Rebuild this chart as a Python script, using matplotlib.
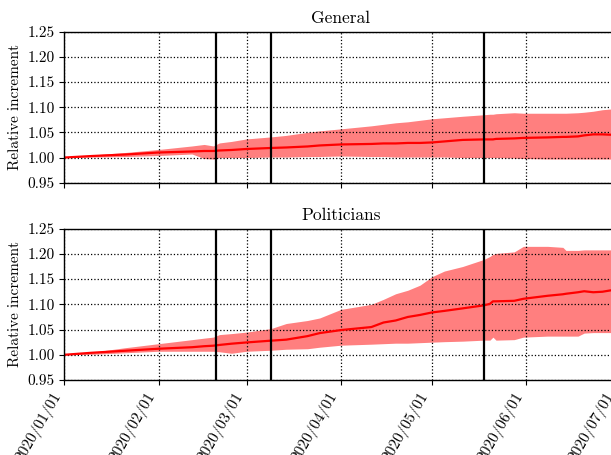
import matplotlib
matplotlib.use("Agg")
import matplotlib.pyplot as plt
import matplotlib.dates as mdates
import numpy as np
import pandas as pd

plt.rcParams['font.family'] = ['cmr10', 'DejaVu Serif']
plt.rcParams['mathtext.fontset'] = 'cm'
plt.rcParams['axes.unicode_minus'] = False
plt.rcParams['axes.formatter.use_mathtext'] = True

dates = ["2020-01-01", "2020-01-10", "2020-01-21", "2020-02-01", "2020-02-12",
         "2020-02-16", "2020-02-19", "2020-02-21", "2020-02-25", "2020-03-01",
         "2020-03-09", "2020-03-14", "2020-03-21", "2020-03-25", "2020-04-01",
         "2020-04-11", "2020-04-15", "2020-04-19", "2020-04-23", "2020-04-27",
         "2020-05-01", "2020-05-05", "2020-05-11", "2020-05-18", "2020-05-20",
         "2020-05-21", "2020-05-22", "2020-05-28", "2020-05-31", "2020-06-08",
         "2020-06-13", "2020-06-14", "2020-06-18", "2020-06-20", "2020-06-23",
         "2020-06-26", "2020-06-30"]

general_mean = [1.000, 1.003, 1.006, 1.010, 1.012, 1.013, 1.013, 1.014, 1.015, 1.017,
                1.019, 1.020, 1.022, 1.024, 1.026, 1.027, 1.028, 1.028, 1.029, 1.029,
                1.030, 1.032, 1.035, 1.036, 1.036, 1.036, 1.037, 1.038, 1.039, 1.040,
                1.041, 1.041, 1.042, 1.044, 1.046, 1.046, 1.045]
general_upper = [1.000, 1.005, 1.010, 1.016, 1.023, 1.026, 1.023, 1.029, 1.032, 1.037,
                 1.041, 1.044, 1.050, 1.053, 1.057, 1.063, 1.066, 1.069, 1.071, 1.074,
                 1.077, 1.079, 1.082, 1.085, 1.086, 1.086, 1.087, 1.089, 1.088, 1.088,
                 1.088, 1.088, 1.089, 1.090, 1.092, 1.095, 1.097]
general_lower = [1.000, 1.001, 1.002, 1.004, 1.007, 0.998, 0.997, 1.000, 1.000, 1.000,
                 1.001, 1.001, 1.002, 1.002, 1.003, 1.002, 1.002, 1.001, 1.001, 1.001,
                 1.001, 1.001, 1.000, 1.000, 1.000, 1.000, 1.000, 0.999, 0.998, 0.997,
                 0.997, 0.997, 0.997, 0.997, 0.997, 0.997, 0.997]

pol_mean = [1.000, 1.004, 1.008, 1.012, 1.015, 1.017, 1.018, 1.0195, 1.022, 1.0245,
            1.028, 1.030, 1.037, 1.043, 1.049, 1.055, 1.064, 1.068, 1.075, 1.079,
            1.084, 1.087, 1.092, 1.098, 1.101, 1.106, 1.106, 1.107, 1.111, 1.117,
            1.120, 1.121, 1.124, 1.126, 1.124, 1.125, 1.129]
pol_upper = [1.000, 1.005, 1.014, 1.022, 1.030, 1.033, 1.035, 1.040, 1.042, 1.045,
             1.052, 1.062, 1.068, 1.073, 1.090, 1.100, 1.110, 1.121, 1.128, 1.138,
             1.155, 1.166, 1.175, 1.189, 1.195, 1.199, 1.201, 1.204, 1.215, 1.215,
             1.213, 1.207, 1.207, 1.208, 1.208, 1.208, 1.208]
pol_lower = [1.000, 1.001, 1.004, 1.007, 1.007, 1.007, 1.007, 1.006, 1.003, 1.007,
             1.009, 1.011, 1.012, 1.015, 1.019, 1.021, 1.022, 1.023, 1.023, 1.024,
             1.025, 1.026, 1.027, 1.029, 1.029, 1.035, 1.029, 1.030, 1.035, 1.037,
             1.037, 1.037, 1.037, 1.043, 1.044, 1.044, 1.044]

event_dates = ["2020-02-20", "2020-03-09", "2020-05-18"]
titles = ["General", "Politicians"]
ylabel = "Relative increment"
yticks = [0.95, 1.00, 1.05, 1.10, 1.15, 1.20, 1.25]

x = pd.to_datetime(dates)
events = pd.to_datetime(event_dates)

fig = plt.figure(figsize=(6.11, 4.55), dpi=100)
W, H = 611, 455
left = 64.3 / W
right = 617.6 / W
ax1 = fig.add_axes([left, 1 - 182.7 / H, right - left, (182.7 - 31.7) / H])
ax2 = fig.add_axes([left, 1 - 380 / H, right - left, (380 - 228.7) / H], sharex=ax1)

series = [(general_mean, general_lower, general_upper),
          (pol_mean, pol_lower, pol_upper)]

for ax, title, (m, lo, up) in zip([ax1, ax2], titles, series):
    ax.fill_between(x, lo, up, color='red', alpha=0.5, linewidth=0)
    ax.plot(x, m, color='red', linewidth=1.6)
    for e in events:
        ax.axvline(e, color='black', linewidth=1.6)
    ax.set_ylim(0.95, 1.25)
    ax.set_yticks(yticks)
    ax.set_yticklabels([f"{v:.2f}" for v in yticks])
    ax.grid(True, linestyle=':', color='black', linewidth=0.9)
    ax.set_title(title, fontsize=12.5, pad=6)
    ax.set_ylabel(ylabel, fontsize=11)
    ax.tick_params(labelsize=11, direction='out', length=3.5, width=0.8)
    for s in ax.spines.values():
        s.set_linewidth(1.0)

ax1.set_xlim(pd.Timestamp("2020-01-01"), pd.Timestamp("2020-07-01"))
ax2.xaxis.set_major_locator(mdates.MonthLocator())
ax2.xaxis.set_major_formatter(mdates.DateFormatter("%Y/%m/%d"))
plt.setp(ax1.get_xticklabels(), visible=False)
plt.setp(ax2.get_xticklabels(), rotation=60, ha='right')

fig.savefig("out.png", dpi=100)
